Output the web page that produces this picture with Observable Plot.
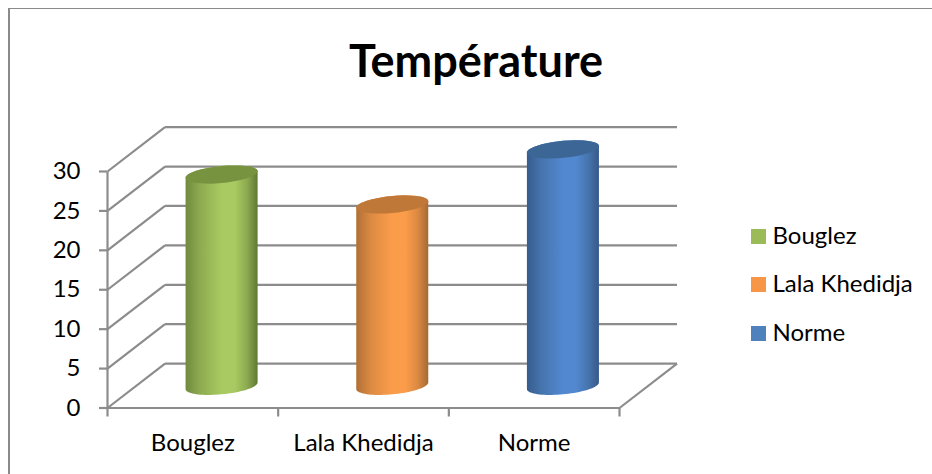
<!DOCTYPE html>
<html lang="fr">
<head>
<meta charset="utf-8">
<script src="https://cdn.jsdelivr.net/npm/d3@7"></script>
<script src="https://cdn.jsdelivr.net/npm/@observablehq/plot@0.6"></script>
<style>
  html, body { margin: 0; padding: 0; background: #fff; overflow: hidden; }
  body { position: relative; width: 932px; height: 474px; font-family: Lato, "Open Sans", sans-serif; color: #000; }
  #frame { position: absolute; left: 8px; top: 8px; right: -4px; bottom: -4px; border-left: 2px solid #8a8a8a; border-top: 1.5px solid #8a8a8a; }
  #chart { position: absolute; left: 0; top: 0; }
  #title { position: absolute; left: 0; width: 952px; top: 33px; text-align: center; font-size: 45px; font-weight: 700; line-height: 54px; }
  #legend { position: absolute; left: 751px; top: 212px; font-size: 24px; }
  #legend div { display: flex; align-items: center; height: 48.5px; }
  #legend i { display: block; width: 15px; height: 15px; margin-right: 6.5px; }
  #legend span { position: relative; top: -2px; }
</style>
</head>
<body>
<div id="frame"></div>
<div id="chart"></div>
<div id="title">Température</div>
<div id="legend"></div>
<script>
// Temperatures per site
const categories = ["Bouglez", "Lala Khedidja", "Norme"];
const temperatures = [26.8, 23, 30];
const yTicks = [0, 5, 10, 15, 20, 25, 30];

// Shading of each cylinder: side edge, shoulder, highlight, far edge, top cap, legend swatch
const palette = [
  {edge: "#6f8a3d", shoulder: "#8dab50", glow: "#a9ca62", far: "#5f7833", cap: "#78933f", swatch: "#9bbb59"},
  {edge: "#b06f35", shoulder: "#dc8a42", glow: "#fb9c4b", far: "#a66a35", cap: "#bf7838", swatch: "#f79646"},
  {edge: "#365c8d", shoulder: "#4674ad", glow: "#5288d0", far: "#37598a", cap: "#3c6695", swatch: "#4f81bd"}
];

// Receding floor depth, in axis units
const depthX = 0.337;
const depthY = 5.63;
// Cylinder cross-section, in axis units
const radiusX = 0.211;
const tiltY = 0.42;
const radiusY = 1.08;

function ellipseAt(i, value, from, to, steps = 40) {
  const cx = i + 0.5 + depthX / 2;
  const cy = value + depthY / 2;
  return d3.range(steps + 1).map(k => {
    const t = from + (to - from) * k / steps;
    return {x: cx + radiusX * Math.cos(t), y: cy + tiltY * Math.cos(t) + radiusY * Math.sin(t)};
  });
}

// Side wall: upper half of the cap, lower half of the base
const bodyPoints = (v, i) => [
  ...ellipseAt(i, v, Math.PI, 0),
  ...ellipseAt(i, 0, 0, -Math.PI)
];
const capPoints = (v, i) => ellipseAt(i, v, 0, 2 * Math.PI);

function gradients() {
  const defs = d3.create("svg:defs");
  palette.forEach((p, i) => {
    const g = defs.append("linearGradient").attr("id", `side${i}`).attr("x1", 0).attr("x2", 1).attr("y1", 0).attr("y2", 0);
    [[0, p.edge], [0.2, p.shoulder], [0.5, p.glow], [0.68, p.glow], [0.85, p.shoulder], [1, p.far]].forEach(([o, c]) =>
      g.append("stop").attr("offset", o).attr("stop-color", c));
  });
  return defs.node();
}

const lineStyle = {stroke: "#8c8c8c", strokeWidth: 2.2};

const plot = Plot.plot({
  width: 932,
  height: 474,
  marginLeft: 107,
  marginRight: 313,
  marginTop: 171,
  marginBottom: 66.5,
  style: {background: "transparent", fontFamily: "Lato, 'Open Sans', sans-serif", overflow: "visible"},
  x: {domain: [0, 3], label: null},
  y: {domain: [0, 30], label: null},
  marks: [
    gradients,
    // Back wall
    Plot.link(yTicks, {x1: depthX, x2: 3 + depthX, y1: d => d + depthY, y2: d => d + depthY, ...lineStyle}),
    // Side wall
    Plot.link(yTicks, {x1: 0, x2: depthX, y1: d => d, y2: d => d + depthY, ...lineStyle}),
    // Right edge of the floor
    Plot.link([3], {x1: d => d, x2: d => d + depthX, y1: 0, y2: depthY, ...lineStyle}),
    // Front axis lines
    Plot.link([0], {x1: 0, x2: 3, y1: 0, y2: 0, ...lineStyle}),
    Plot.link([0], {x1: 0, x2: 0, y1: 0, y2: 30, ...lineStyle}),
    // Cylinders
    ...temperatures.flatMap((v, i) => [
      Plot.line(bodyPoints(v, i), {x: "x", y: "y", fill: `url(#side${i})`, stroke: "none"}),
      Plot.line(capPoints(v, i), {x: "x", y: "y", fill: palette[i].cap, stroke: "none"})
    ]),
    // Axes
    Plot.axisY({ticks: yTicks, tickSize: 8, tickPadding: 19, fontSize: 24, stroke: "#8c8c8c", strokeWidth: 2.2, color: "#000", label: null, tickFormat: d => d}),
    Plot.axisX({ticks: [0, 1, 2, 3], tickSize: 9, tickFormat: () => "", stroke: "#8c8c8c", strokeWidth: 2.2, label: null}),
    Plot.axisX({ticks: categories.map((c, i) => i + 0.5), tickSize: 0, tickPadding: 26, fontSize: 24, tickFormat: d => categories[d - 0.5], label: null})
  ]
});
document.getElementById("chart").append(plot);
d3.select(plot).selectAll("g[aria-label='y-axis tick label'] text, g[aria-label='x-axis tick label'] text").attr("fill", "#000");

// Legend entries beside the plot
const legend = d3.select("#legend");
categories.forEach((c, i) => {
  const row = legend.append("div");
  row.append("i").style("background", palette[i].swatch);
  row.append("span").text(c);
});
</script>
</body>
</html>
